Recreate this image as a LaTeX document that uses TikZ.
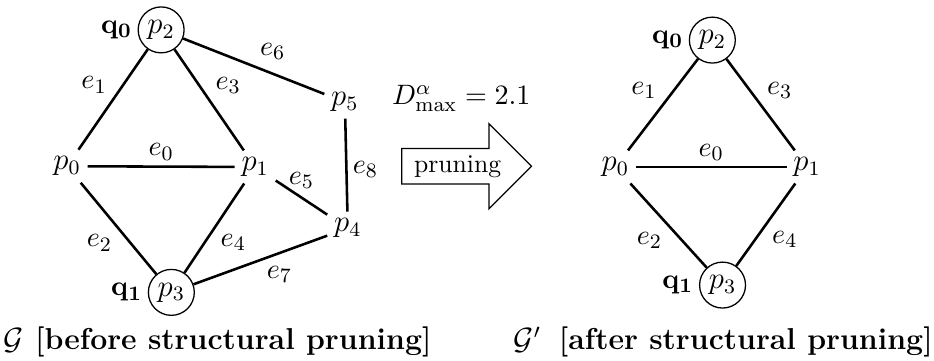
\documentclass[tikz,border=0pt]{standalone}
\usetikzlibrary{positioning,shapes.arrows}
\tikzset{
  pnode/.style={inner sep=2.5pt, font=\large},
  term/.style={circle, draw, line width=0.5pt, minimum size=6.3mm, inner sep=1pt, font=\large},
  qlbl/.style={inner sep=2pt, font=\fontsize{11}{13}\selectfont},
  edg/.style={line width=1pt},
  elbl/.style={inner sep=2pt, font=\fontsize{11}{13}\selectfont},
  prune/.style={single arrow, draw, line width=0.5pt, minimum height=1.78cm,
                inner xsep=4.5pt, inner ysep=2.35pt, single arrow head extend=0.34cm},
  captxt/.style={anchor=base west, inner sep=0pt, font=\fontsize{11.8}{14}\selectfont},
}

\begin{document}
\begin{tikzpicture}
  \useasboundingbox (0,0) rectangle (12.81,-4.94);

  % before pruning
  \node[term] (a2) at (2.21,-0.41) {$p_2$};
  \node[qlbl, left=0pt of a2] (aq0) {$\mathbf{q_0}$};
  \node[pnode] (a0) at (0.92,-2.28) {$p_0$};
  \node[pnode] (a1) at (3.50,-2.29) {$p_1$};
  \node[pnode] (a5) at (4.73,-1.40) {$p_5$};
  \node[pnode] (a4) at (4.77,-3.13) {$p_4$};
  \node[term] (a3) at (2.35,-4.01) {$p_3$};
  \node[qlbl, left=0pt of a3] (aq1) {$\mathbf{q_1}$};

  \draw[edg] (a0) -- node[elbl, above] {$e_0$} (a1);
  \draw[edg] (a0) -- node[elbl, above left] {$e_1$} (a2);
  \draw[edg] (a0) -- node[elbl, below left] {$e_2$} (a3);
  \draw[edg] (a2) -- node[elbl, above right] {$e_3$} (a1);
  \draw[edg] (a1) -- node[elbl, below right] {$e_4$} (a3);
  \draw[edg] (a1) -- node[elbl, above, inner sep=3pt] {$e_5$} (a4);
  \draw[edg] (a2) -- node[elbl, above right] {$e_6$} (a5);
  \draw[edg] (a3) -- node[elbl, below right] {$e_7$} (a4);
  \draw[edg] (a5) -- node[elbl, right, pos=0.55] {$e_8$} (a4);

  % pruning step
  \node[prune, anchor=tail] (arr) at (5.50,-2.28) {pruning};
  \node[above=0.46cm of arr, xshift=0.05cm, inner sep=1pt, font=\fontsize{11}{13}\selectfont] (dmax) {$D^{\alpha}_{\max} = 2.1$};

  % after pruning
  \node[term] (b2) at (9.77,-0.55) {$p_2$};
  \node[qlbl, left=0pt of b2] (bq0) {$\mathbf{q_0}$};
  \node[pnode] (b0) at (8.44,-2.29) {$p_0$};
  \node[pnode] (b1) at (11.07,-2.29) {$p_1$};
  \node[term] (b3) at (9.91,-3.91) {$p_3$};
  \node[qlbl, left=0pt of b3] (bq1) {$\mathbf{q_1}$};

  \draw[edg] (b0) -- node[elbl, above] {$e_0$} (b1);
  \draw[edg] (b0) -- node[elbl, above left] {$e_1$} (b2);
  \draw[edg] (b0) -- node[elbl, below left] {$e_2$} (b3);
  \draw[edg] (b2) -- node[elbl, above right] {$e_3$} (b1);
  \draw[edg] (b1) -- node[elbl, below right] {$e_4$} (b3);

  % captions
  \node[captxt] (capa) at (0.04,-4.80) {$\mathcal{G}$\hspace{4.5pt}\textbf{[before structural pruning]}};
  \node[captxt, anchor=base east] (capb) at (12.80,-4.80) {$\mathcal{G}'$\hspace{7pt}\textbf{[after structural pruning]}};
\end{tikzpicture}
\end{document}
